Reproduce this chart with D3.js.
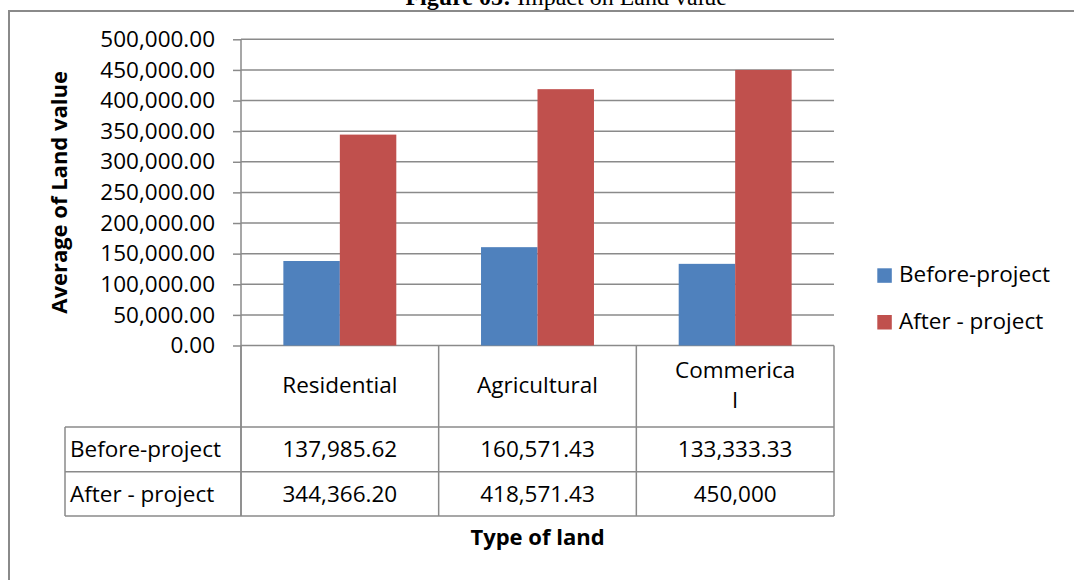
<!DOCTYPE html>
<html>
<head>
<meta charset="utf-8">
<script src="https://d3js.org/d3.v7.min.js"></script>
<style>
  html, body { margin: 0; padding: 0; background: #fff; }
  svg { display: block; }
</style>
</head>
<body>
<svg id="chart" width="1074" height="580"></svg>
<script>
// ---- data ----
const categories = ["Residential", "Agricultural", "Commerical"];
const categoryLabelLines = [["Residential"], ["Agricultural"], ["Commerica", "l"]];
const seriesNames = ["Before-project", "After - project"];
const beforeValues = [137985.62, 160571.43, 133333.33];
const afterValues = [344366.20, 418571.43, 450000];
const tableBefore = ["137,985.62", "160,571.43", "133,333.33"];
const tableAfter = ["344,366.20", "418,571.43", "450,000"];
const yTicks = [0, 50000, 100000, 150000, 200000, 250000, 300000, 350000, 400000, 450000, 500000];
const seriesColors = ["#4F81BD", "#C0504D"];

// ---- layout ----
const svg = d3.select("#chart");
const FONT = "'Open Sans', 'Liberation Sans', sans-serif";
const gridColor = "#8a8a8a";
const L = 241, R = 834, T = 39.3, B = 345.5;
const tableRows = [427, 471.7, 516];
const tableLeft = 65;

// outer frame
svg.append("rect").attr("x", 9).attr("y", 11).attr("width", 1200).attr("height", 800)
  .attr("fill", "none").attr("stroke", gridColor).attr("stroke-width", 2);

// title (cut off at the top edge, as in the source)
svg.append("text").attr("x", 511).attr("y", 5).attr("text-anchor", "end")
  .attr("font-family", "'Liberation Serif', 'Times New Roman', serif").attr("font-size", 24)
  .attr("font-weight", "bold").text("Figure 05:");
svg.append("text").attr("x", 517).attr("y", 5).attr("text-anchor", "start")
  .attr("font-family", "'Liberation Serif', 'Times New Roman', serif").attr("font-size", 24)
  .text("Impact on Land value");

const y = d3.scaleLinear().domain([0, 500000]).range([B, T]);
const x = d3.scaleBand().domain(categories).range([L, R]).padding(0);
const xs = d3.scaleBand().domain(seriesNames).range([0, x.bandwidth()]).paddingInner(0).paddingOuter(0.75);

// gridlines
svg.append("g").selectAll("line").data(yTicks).join("line")
  .attr("x1", L).attr("x2", R).attr("y1", d => y(d)).attr("y2", d => y(d))
  .attr("stroke", gridColor).attr("stroke-width", 1.5);

// bars
const seriesData = [beforeValues, afterValues];
seriesNames.forEach((s, si) => {
  svg.append("g").selectAll("rect").data(categories).join("rect")
    .attr("x", c => x(c) + xs(s))
    .attr("width", xs.bandwidth())
    .attr("y", (c, i) => y(seriesData[si][i]))
    .attr("height", (c, i) => y(0) - y(seriesData[si][i]))
    .attr("fill", seriesColors[si]);
});

// y axis
const yAxis = d3.axisLeft(y).tickValues(yTicks).tickFormat(d3.format(",.2f")).tickSize(8).tickPadding(18);
const ga = svg.append("g").attr("transform", `translate(${L},0)`).call(yAxis);
ga.select(".domain").remove();
ga.selectAll(".tick line").attr("stroke", gridColor).attr("stroke-width", 1.5);
ga.selectAll(".tick text").attr("font-family", FONT).attr("font-size", 22.5).attr("fill", "#000");
svg.append("line").attr("x1", L).attr("x2", L).attr("y1", T).attr("y2", tableRows[2])
  .attr("stroke", gridColor).attr("stroke-width", 1.5);

// data table
const tg = svg.append("g");
const colEdges = [L].concat(categories.map(c => x(c) + x.bandwidth()));
colEdges.forEach((cx) => {
  tg.append("line").attr("x1", cx).attr("x2", cx).attr("y1", B).attr("y2", tableRows[2])
    .attr("stroke", gridColor).attr("stroke-width", 1.5);
});
tg.append("line").attr("x1", tableLeft).attr("x2", tableLeft).attr("y1", tableRows[0]).attr("y2", tableRows[2])
  .attr("stroke", gridColor).attr("stroke-width", 1.5);
tableRows.forEach(ry => {
  tg.append("line").attr("x1", tableLeft).attr("x2", R).attr("y1", ry).attr("y2", ry)
    .attr("stroke", gridColor).attr("stroke-width", 1.5);
});

// header labels
categories.forEach((c, i) => {
  const lines = categoryLabelLines[i];
  const cx = x(c) + x.bandwidth() / 2;
  const t = tg.append("text").attr("text-anchor", "middle").attr("font-family", FONT).attr("font-size", 22.5);
  if (lines.length === 1) {
    t.append("tspan").attr("x", cx).attr("y", 393).text(lines[0]);
  } else {
    lines.forEach((ln, k) => t.append("tspan").attr("x", cx).attr("y", 378 + k * 30).text(ln));
  }
});

// rows
const rowBaselines = [456.7, 501.7];
const rowValues = [tableBefore, tableAfter];
seriesNames.forEach((s, si) => {
  tg.append("text").attr("x", 70).attr("y", rowBaselines[si]).attr("font-family", FONT)
    .attr("font-size", 22.5).text(s);
  categories.forEach((c, i) => {
    tg.append("text").attr("x", x(c) + x.bandwidth() / 2).attr("y", rowBaselines[si])
      .attr("text-anchor", "middle").attr("font-family", FONT).attr("font-size", 22.5)
      .text(rowValues[si][i]);
  });
});

// axis titles
svg.append("text").attr("x", (L + R) / 2).attr("y", 545).attr("text-anchor", "middle")
  .attr("font-family", FONT).attr("font-weight", "bold").attr("font-size", 22).text("Type of land");
svg.append("text").attr("transform", `translate(67,${(T + B) / 2}) rotate(-90)`).attr("text-anchor", "middle")
  .attr("font-family", FONT).attr("font-weight", "bold").attr("font-size", 22).text("Average of Land value");

// legend
const lg = svg.append("g");
const legendY = [268.3, 315];
seriesNames.forEach((s, si) => {
  lg.append("rect").attr("x", 877.3).attr("y", legendY[si]).attr("width", 14.5).attr("height", 14.5)
    .attr("fill", seriesColors[si]);
  lg.append("text").attr("x", 899).attr("y", legendY[si] + 14).attr("font-family", FONT)
    .attr("font-size", 22.5).text(s);
});
</script>
</body>
</html>
